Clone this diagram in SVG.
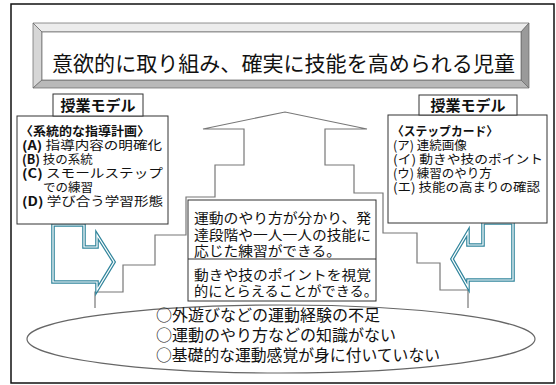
<svg xmlns="http://www.w3.org/2000/svg" width="556" height="385" viewBox="0 0 556 385">
<defs>
<style>
text{font-family:"Noto Sans CJK JP","Noto Sans",sans-serif;fill:#111;}
.box{fill:#fff;stroke:#333;stroke-width:1;}
.stair{fill:none;stroke:#777;stroke-width:1.2;}
.arrowOut{fill:none;stroke:#31859C;stroke-width:3.6;stroke-linejoin:miter;}
.arrowIn{fill:none;stroke:#fff;stroke-width:1.2;stroke-linejoin:miter;}
.bev{stroke:#666;stroke-width:0.7;}
.lbl{font-size:15px;font-weight:bold;}
.item{font-size:12.5px;}
.ctr{font-size:13.5px;}
.ell{font-size:16px;}
</style>
</defs>
<rect x="0" y="0" width="556" height="385" fill="#fff"/>
<rect x="11" y="4" width="543" height="379" fill="none" stroke="#111" stroke-width="1.5"/>

<g id="title">
<polygon class="bev" points="33,23 529,23 521,32 42,32" fill="#ececec"/>
<polygon class="bev" points="33,23 42,32 42,80 33,88" fill="#d6d6d6"/>
<polygon class="bev" points="529,23 529,88 521,80 521,32" fill="#9a9a9a"/>
<polygon class="bev" points="33,88 529,88 521,80 42,80" fill="#b9b9b9"/>
<rect x="42" y="32" width="479" height="48" fill="#fff" stroke="#666" stroke-width="0.7"/>
<text x="52" y="71" font-size="21" textLength="463" lengthAdjust="spacingAndGlyphs">意欲的に取り組み、確実に技能を高められる児童</text>
</g>

<g id="stairs">
<polyline class="stair" points="95,308 95,292 123,292 123,265 155,265 155,235 186,235 186,197 215,197 215,165 244,165 244,129 203,129 285,112 367,129 325,129 325,165 354,165 354,193 383,193 383,233 417,233 417,263 440,263 440,290 468,290 468,308"/>
</g>

<g id="ellipse-node">
<ellipse cx="281" cy="339" rx="254" ry="34" fill="#fff" stroke="#666" stroke-width="1.2"/>
<text class="ell" x="156" y="321">○外遊びなどの運動経験の不足</text>
<text class="ell" x="156" y="341">○運動のやり方などの知識がない</text>
<text class="ell" x="156" y="361" textLength="284" lengthAdjust="spacingAndGlyphs">○基礎的な運動感覚が身に付いていない</text>
</g>

<g id="center-box">
<rect class="box" x="188" y="200" width="188" height="101"/>
<line x1="188" y1="259" x2="376" y2="259" stroke="#333" stroke-width="1"/>
<text class="ctr" x="194" y="223" textLength="177" lengthAdjust="spacingAndGlyphs">運動のやり方が分かり、発</text>
<text class="ctr" x="194" y="239.5" textLength="177" lengthAdjust="spacingAndGlyphs">達段階や一人一人の技能に</text>
<text class="ctr" x="194" y="256" textLength="147" lengthAdjust="spacingAndGlyphs">応じた練習ができる。</text>
<text class="ctr" x="194" y="280" textLength="177" lengthAdjust="spacingAndGlyphs">動きや技のポイントを視覚</text>
<text class="ctr" x="194" y="296" textLength="184" lengthAdjust="spacingAndGlyphs">的にとらえることができる。</text>
</g>

<g id="connectors">
<polygon class="arrowOut" points="53,225 84,225 84,247 97,247 97,235 114,262 97,290 97,282 53,282"/>
<polygon class="arrowIn" points="53,225 84,225 84,247 97,247 97,235 114,262 97,290 97,282 53,282"/>
<polygon class="arrowOut" points="513,223 483,223 483,245 468,245 468,232 452,259 468,287 468,280 513,280"/>
<polygon class="arrowIn" points="513,223 483,223 483,245 468,245 468,232 452,259 468,287 468,280 513,280"/>
</g>

<g id="left-model">
<rect class="box" x="17" y="116" width="151" height="108"/>
<rect class="box" x="53" y="94" width="90" height="22"/>
<text class="lbl" x="98" y="111" text-anchor="middle">授業モデル</text>
<text class="item" x="20" y="136" font-weight="bold" textLength="130" lengthAdjust="spacingAndGlyphs">〈系統的な指導計画〉</text>
<text class="item" x="22" y="150" textLength="140" lengthAdjust="spacingAndGlyphs"><tspan font-weight="bold">(A)</tspan> 指導内容の明確化</text>
<text class="item" x="22" y="164"><tspan font-weight="bold">(B)</tspan> 技の系統</text>
<text class="item" x="22" y="178" textLength="141" lengthAdjust="spacingAndGlyphs"><tspan font-weight="bold">(C)</tspan> スモールステップ</text>
<text class="item" x="43" y="192">での練習</text>
<text class="item" x="22" y="206" textLength="141" lengthAdjust="spacingAndGlyphs"><tspan font-weight="bold">(D)</tspan> 学び合う学習形態</text>
</g>

<g id="right-model">
<rect class="box" x="388" y="115" width="159" height="108"/>
<rect class="box" x="419" y="95" width="98" height="20"/>
<text class="lbl" x="468" y="111" text-anchor="middle">授業モデル</text>
<text class="item" x="392" y="136" font-weight="bold" textLength="106" lengthAdjust="spacingAndGlyphs">〈ステップカード〉</text>
<text class="item" x="393" y="150">(ア) 連続画像</text>
<text class="item" x="393" y="164" textLength="150" lengthAdjust="spacingAndGlyphs">(イ) 動きや技のポイント</text>
<text class="item" x="393" y="178">(ウ) 練習のやり方</text>
<text class="item" x="393" y="192" textLength="147" lengthAdjust="spacingAndGlyphs">(エ) 技能の高まりの確認</text>
</g>
</svg>
